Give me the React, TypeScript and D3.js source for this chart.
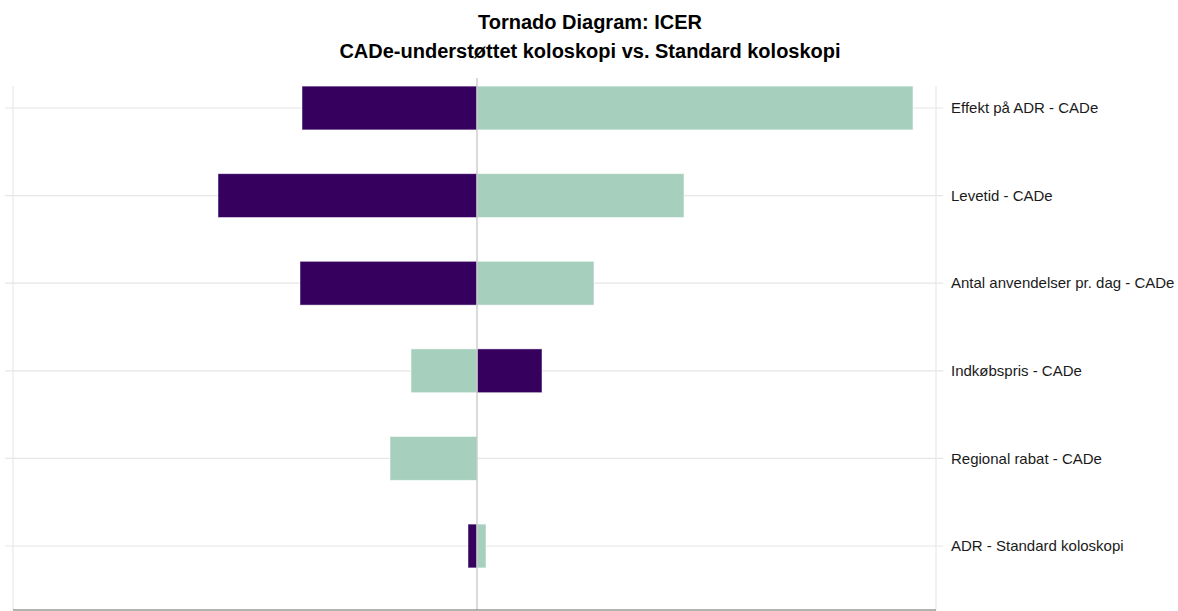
import React, { useEffect, useRef } from 'react';
import * as d3 from 'd3';

// Parameters, top to bottom
const parameters = [
  'Effekt på ADR - CADe',
  'Levetid - CADe',
  'Antal anvendelser pr. dag - CADe',
  'Indkøbspris - CADe',
  'Regional rabat - CADe',
  'ADR - Standard koloskopi',
];

// Change in ICER relative to base case (arbitrary units)
const lowBoundValues = [-175, -259, -177, 65, 0, -9]; // purple
const highBoundValues = [436, 207, 117, -66, -87, 9]; // green

const xDomain = [-464, 459];

const WIDTH = 1178;
const HEIGHT = 611;

const App: React.FC = () => {
  const svgRef = useRef<SVGSVGElement>(null);

  useEffect(() => {
    document.body.style.margin = '0';
    if (!svgRef.current) return;

    const svg = d3.select(svgRef.current).html('');
    const left = 13;
    const right = 936;
    const top = 86;
    const bottom = 610;

    const x = d3.scaleLinear().domain(xDomain).range([left, right]);
    const y = d3
      .scaleBand<string>()
      .domain(parameters)
      .range([64.2, 589.8])
      .paddingInner(0.5)
      .paddingOuter(0.25);

    const font = '"Liberation Sans", Arial, sans-serif';

    // title
    const title = svg
      .append('text')
      .attr('text-anchor', 'middle')
      .style('font-family', font)
      .style('font-weight', 'bold')
      .style('font-size', '20px')
      .attr('fill', '#000');
    title.append('tspan').attr('x', 590).attr('y', 29).text('Tornado Diagram: ICER');
    title
      .append('tspan')
      .attr('x', 590)
      .attr('y', 58)
      .text('CADe-understøttet koloskopi vs. Standard koloskopi');

    // frame lines
    svg
      .selectAll('line.vgrid')
      .data([left, right])
      .enter()
      .append('line')
      .attr('x1', (d) => d)
      .attr('x2', (d) => d)
      .attr('y1', top)
      .attr('y2', bottom)
      .attr('stroke', '#e8e8e8')
      .attr('stroke-width', 1.2);

    // horizontal gridlines / ticks
    svg
      .selectAll('line.hgrid')
      .data(parameters)
      .enter()
      .append('line')
      .attr('x1', 5)
      .attr('x2', right + 7)
      .attr('y1', (d) => y(d)! + y.bandwidth() / 2)
      .attr('y2', (d) => y(d)! + y.bandwidth() / 2)
      .attr('stroke', '#e6e6e6')
      .attr('stroke-width', 1.2);

    const rows = parameters.map((p, i) => ({ p, low: lowBoundValues[i], high: highBoundValues[i] }));

    const drawBars = (key: 'low' | 'high', color: string) => {
      svg
        .append('g')
        .selectAll('rect')
        .data(rows.filter((r) => r[key] !== 0))
        .enter()
        .append('rect')
        .attr('x', (d) => Math.min(x(0), x(d[key])))
        .attr('width', (d) => Math.abs(x(d[key]) - x(0)))
        .attr('y', (d) => y(d.p)!)
        .attr('height', y.bandwidth())
        .attr('fill', color)
        .attr('stroke', '#ffffff')
        .attr('stroke-opacity', 0.6)
        .attr('stroke-width', 0.8);
    };
    drawBars('low', '#35005e');
    drawBars('high', '#a6d0bd');

    // base case line
    svg
      .append('line')
      .attr('x1', x(0))
      .attr('x2', x(0))
      .attr('y1', 78)
      .attr('y2', bottom)
      .attr('stroke', '#c6c6c6')
      .attr('stroke-width', 1.3);

    // bottom axis line
    svg
      .append('line')
      .attr('x1', left)
      .attr('x2', right)
      .attr('y1', bottom)
      .attr('y2', bottom)
      .attr('stroke', '#666')
      .attr('stroke-width', 1.2);

    // labels
    svg
      .selectAll('text.lab')
      .data(parameters)
      .enter()
      .append('text')
      .attr('x', 951)
      .attr('y', (d) => y(d)! + y.bandwidth() / 2)
      .attr('dy', '0.35em')
      .style('font-family', font)
      .style('font-size', '15px')
      .attr('fill', '#1a1a1a')
      .text((d) => d);
  }, []);

  return <svg ref={svgRef} width={WIDTH} height={HEIGHT} style={{ display: 'block' }}></svg>;
};

export default App;
